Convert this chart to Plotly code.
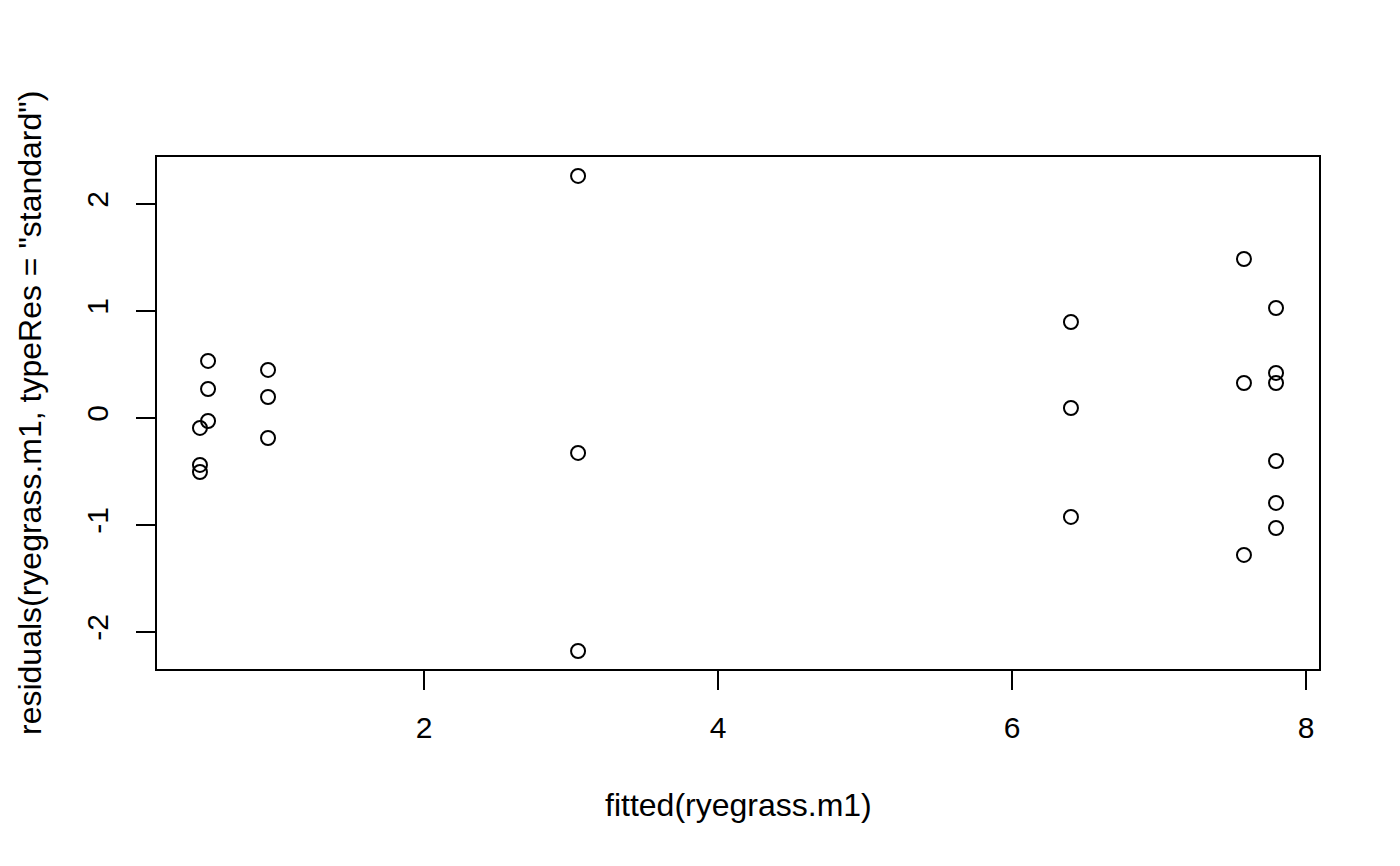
import plotly.graph_objects as go

fitted = [0.476, 0.476, 0.476,
          0.531, 0.531, 0.531,
          0.939, 0.939, 0.939,
          3.048, 3.048, 3.048,
          6.401, 6.401, 6.401,
          7.578, 7.578, 7.578,
          7.796, 7.796, 7.796, 7.796, 7.796, 7.796]
std_resid = [-0.093, -0.439, -0.505,
             0.533, 0.271, -0.028,
             0.449, 0.196, -0.187,
             2.262, -0.327, -2.178,
             0.897, 0.093, -0.925,
             1.486, 0.327, -1.280,
             1.028, 0.421, 0.327, -0.402, -0.794, -1.028]

x_ticks = [2, 4, 6, 8]
y_ticks = [-2, -1, 0, 1, 2]
x_title = "fitted(ryegrass.m1)"
y_title = 'residuals(ryegrass.m1, typeRes = "standard")'

FONT = "Liberation Sans, Arial, sans-serif"

fig = go.Figure()
fig.add_trace(go.Scatter(
    x=fitted, y=std_resid, mode="markers",
    marker=dict(symbol="circle-open", size=14, color="black", line=dict(width=2, color="black")),
    showlegend=False, hoverinfo="x+y",
))

axis_common = dict(
    showgrid=False, zeroline=False, showline=True, mirror=True,
    linecolor="black", linewidth=1.5, ticks="outside", ticklen=19,
    tickwidth=1.5, tickcolor="black",
    tickfont=dict(family=FONT, size=30, color="black"),
)

# page body has an 8px margin, so margins are shifted by 8px
fig.update_layout(
    width=1400, height=866,
    margin=dict(l=149, r=89, t=149, b=205, autoexpand=False),
    paper_bgcolor="white", plot_bgcolor="white",
    font=dict(family=FONT, color="black"),
    xaxis=dict(range=[0.1837, 8.0884], tickvals=x_ticks, ticktext=[str(v) for v in x_ticks],
               ticklabelstandoff=12, **axis_common),
    yaxis=dict(range=[-2.346, 2.439], tickvals=y_ticks, ticktext=[str(v) for v in y_ticks],
               tickangle=-90, ticklabelstandoff=16, **axis_common),
    annotations=[
        dict(text=x_title, xref="paper", yref="paper", x=0.5, y=-(805 - 669) / 512,
             xanchor="center", yanchor="middle", showarrow=False,
             font=dict(family=FONT, size=32, color="black")),
        dict(text=y_title, xref="paper", yref="paper", x=-(157 - 30) / 1162, y=(669 - 413) / 512,
             xanchor="center", yanchor="middle", showarrow=False, textangle=-90,
             font=dict(family=FONT, size=32, color="black")),
    ],
)

fig.write_html("out.html")
